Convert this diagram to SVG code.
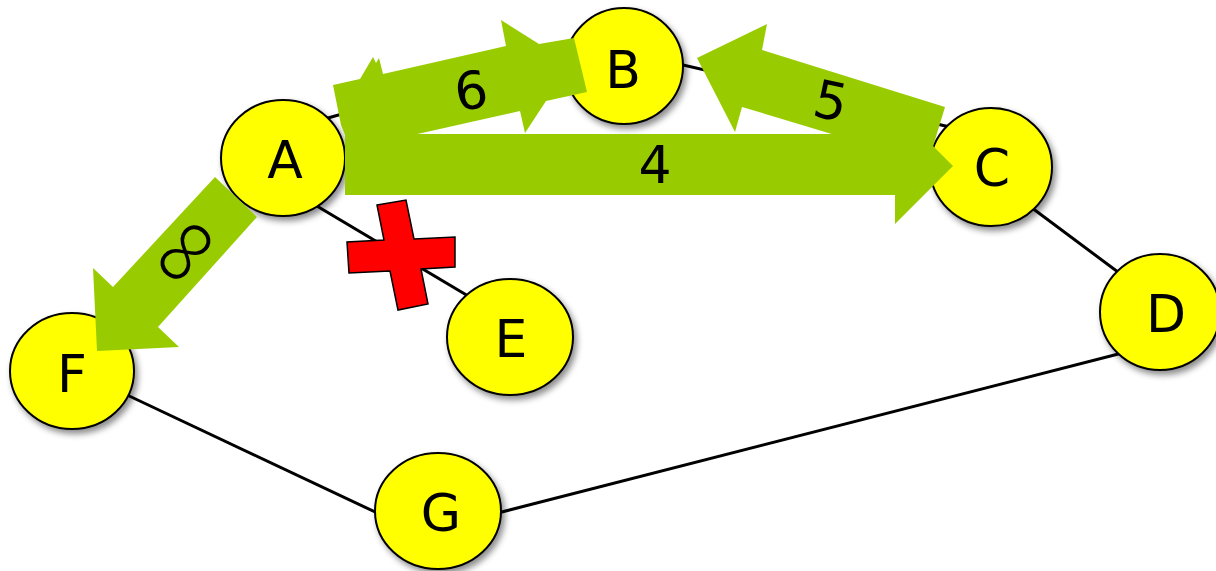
<svg xmlns="http://www.w3.org/2000/svg" width="1216" height="571" viewBox="0 0 1216 571">
  <defs>
    <filter id="shadow" x="-20%" y="-20%" width="150%" height="150%">
      <feDropShadow dx="3" dy="4" stdDeviation="3" flood-color="#000" flood-opacity="0.45"/>
    </filter>
  </defs>
  <style>
    .edge { stroke: #000; stroke-width: 3; fill: none; }
    .node { fill: #ffff00; stroke: #000; stroke-width: 2; filter: url(#shadow); }
    .lbl { font-family: "DejaVu Sans", Verdana, "Liberation Sans", sans-serif; font-size: 52px; fill: #000; text-anchor: middle; }
    .inf { font-family: "Open Sans", "DejaVu Sans", sans-serif; font-weight: 300; font-size: 100px; }
    .flow { fill: #99cc00; stroke: none; }
    .cross { fill: #ff0000; stroke: #000; stroke-width: 1.5; }
  </style>
  <rect width="1216" height="571" fill="#ffffff"/>

  <!-- graph edges -->
  <g id="connectors">
    <line class="edge" x1="300" y1="126" x2="566" y2="50"/>
    <line class="edge" x1="640" y1="55" x2="980" y2="134"/>
    <line class="edge" x1="300" y1="196" x2="490" y2="309"/>
    <line class="edge" x1="1020" y1="199" x2="1130" y2="281"/>
    <line class="edge" x1="1130" y1="351" x2="490" y2="515"/>
    <line class="edge" x1="125" y1="394" x2="390" y2="519"/>
  </g>

  <!-- vertices -->
  <g id="node-A"><ellipse class="node" cx="283" cy="158" rx="62" ry="58"/><text class="lbl" x="285" y="178">A</text></g>
  <g id="node-B"><ellipse class="node" cx="624" cy="66" rx="59" ry="58"/><text class="lbl" x="623" y="88">B</text></g>
  <g id="node-C"><ellipse class="node" cx="991" cy="167" rx="61" ry="59"/><text class="lbl" x="992" y="186">C</text></g>
  <g id="node-D"><ellipse class="node" cx="1160" cy="312" rx="60" ry="58"/><text class="lbl" x="1166" y="332">D</text></g>
  <g id="node-E"><ellipse class="node" cx="510" cy="337" rx="63" ry="58"/><text class="lbl" x="511" y="357">E</text></g>
  <g id="node-F"><ellipse class="node" cx="72" cy="371" rx="62" ry="58"/><text class="lbl" x="72" y="392">F</text></g>
  <g id="node-G"><ellipse class="node" cx="438" cy="511" rx="63" ry="58"/><text class="lbl" x="441" y="531">G</text></g>

  <!-- weighted flow arrows -->
  <g id="flow-AB">
    <polygon class="flow" points="333,85 360,79 373,57 376,63 379,58 383,74 506,46 501,20 539,44 574,38 587,92 546,101 525,133 520,111 413,135 345,135 341,125"/>
    <text class="lbl" x="471" y="109" transform="rotate(-8 471 90)">6</text>
  </g>
  <g id="flow-AC">
    <polygon class="flow" points="345,134 895,134 895,108 953,166 895,224 895,195 345,195"/>
    <text class="lbl" x="655" y="183">4</text>
  </g>
  <g id="flow-CB">
    <polygon class="flow" points="697,58 767,24 762,50 945,107 928,163 742,107 735,132"/>
    <text class="lbl" x="831" y="119" transform="rotate(12 831 100)">5</text>
  </g>
  <g id="flow-AF">
    <polygon class="flow" points="215,177 257,217 158,327 179,347 97,351 93,268 113,287"/>
    <text class="lbl inf" x="188" y="286" transform="rotate(-50 188 254)">∞</text>
  </g>

  <!-- blocked edge A–E -->
  <g id="blocked-AE">
    <polygon class="cross" points="377,205 406,200 414,239 455,237 455,267 421,269 428,304 398,310 390,271 349,273 347,242 384,240"/>
  </g>
</svg>
